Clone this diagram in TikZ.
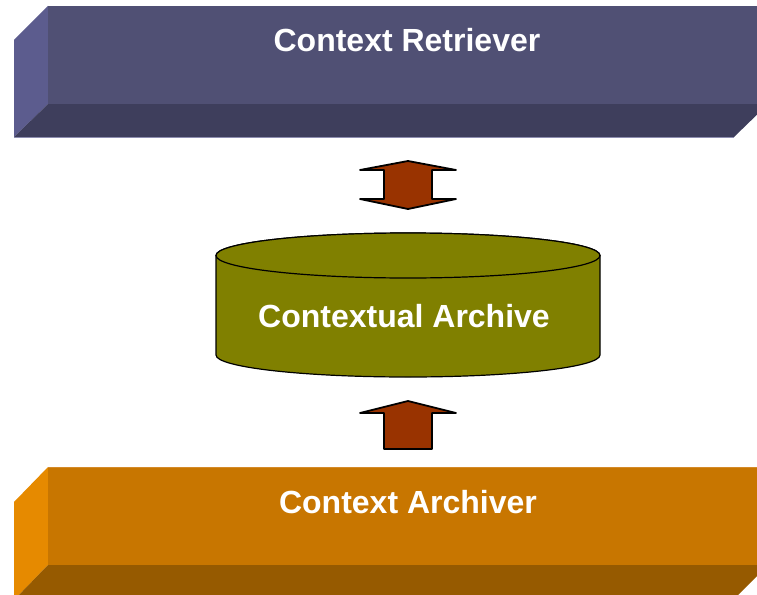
\documentclass[tikz,border=0pt]{standalone}
\usepackage{fontspec}
\setmainfont{Liberation Sans}
\definecolor{retfront}{RGB}{80,80,116}
\definecolor{retside}{RGB}{92,92,142}
\definecolor{retbottom}{RGB}{62,62,92}
\definecolor{arcfront}{RGB}{200,118,0}
\definecolor{arcside}{RGB}{230,138,0}
\definecolor{arcbottom}{RGB}{150,90,0}
\definecolor{arcedge}{RGB}{212,138,40}
\definecolor{archiveolive}{RGB}{128,128,0}
\definecolor{arrowbrown}{RGB}{153,51,0}
\begin{document}
\begin{tikzpicture}[x=1pt,y=-1pt,
  title/.style={font=\bfseries\fontsize{32}{36}\selectfont, text=white,
                anchor=base, inner sep=0pt},
  blockarrow/.style={fill=arrowbrown, draw=black, line width=1.8pt,
                     line join=round},
  drum/.style={fill=archiveolive, draw=black, line width=1.2pt}]
  \useasboundingbox (0,0) rectangle (757,594);
  \clip (0,0) rectangle (757,594);

  % upper slab: side, bottom and front faces
  \fill[retside] (14,40) -- (48,6) -- (48,104) -- (14,137) -- cycle;
  \fill[retbottom] (48,104) -- (768,104) -- (734,137) -- (14,137) -- cycle;
  \fill[retfront] (48,6) rectangle (768,104);
  \draw[retside!70!white, line width=0.8pt] (14,137) -- (734,137);
  \node[title] (retriever) at (407,52) {Context Retriever};

  % two-way block arrow
  \draw[blockarrow] (408,161) -- (456,170) -- (432,170) -- (432,199)
    -- (456,199) -- (408,209) -- (360,199) -- (384,199) -- (384,170)
    -- (360,170) -- cycle;

  % archive drum (the y axis points down, so angles run clockwise)
  \path[drum] (216,255.5) -- (216,355)
    arc[start angle=180, end angle=0, x radius=192, y radius=22]
    -- (600,255.5)
    arc[start angle=0, end angle=-180, x radius=192, y radius=22.5] -- cycle;
  \draw[drum] (408,255.5) ellipse[x radius=192, y radius=22.5];
  \node[title] (archive) at (404,327) {Contextual Archive};

  % one-way block arrow
  \draw[blockarrow] (408,401) -- (456,413) -- (432,413) -- (432,449)
    -- (384,449) -- (384,413) -- (360,413) -- cycle;

  % lower slab: side, bottom and front faces
  \fill[arcside] (14,502) -- (48,467) -- (48,565) -- (14,600) -- cycle;
  \fill[arcbottom] (48,565) -- (768,565) -- (733,600) -- (14,600) -- cycle;
  \fill[arcfront] (48,467) rectangle (768,565);
  \draw[arcedge, line width=1.2pt] (48,467.6) -- (768,467.6);
  \node[title] (archiver) at (408,513) {Context Archiver};
\end{tikzpicture}
\end{document}
